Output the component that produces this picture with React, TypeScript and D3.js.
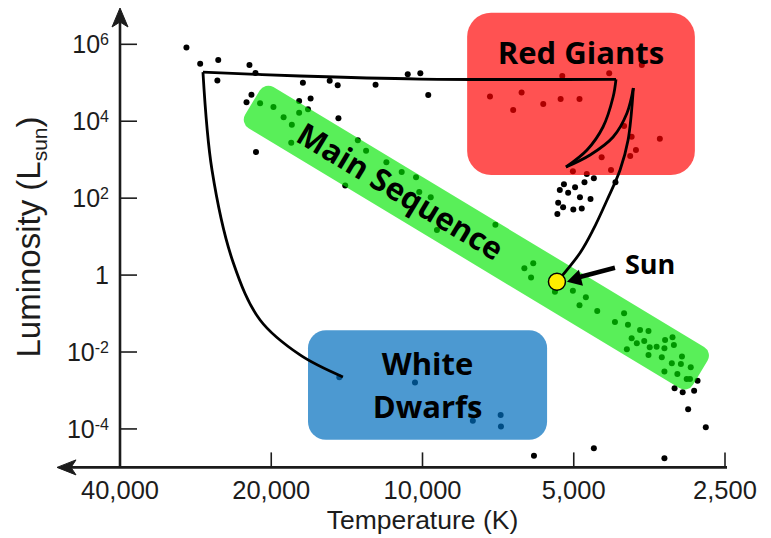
import React, { useRef, useEffect } from "react";
import * as d3 from "d3";

const WIDTH = 771;
const HEIGHT = 538;

// axis ticks
const tempTicks = [40000, 20000, 10000, 5000, 2500];
const tempLabels = ["40,000", "20,000", "10,000", "5,000", "2,500"];
const lumTicks = [1e6, 1e4, 1e2, 1, 1e-2, 1e-4];
const lumExponents = ["6", "4", "2", "", "-2", "-4"];

// stars as [temperature K, luminosity Lsun]
const brightStars = [
  [29500, 8.3e5], [27700, 3.1e5], [25500, 3.9e5], [22100, 2.9e5], [21500, 1.8e5],
  [25600, 1.14e5], [21900, 4.9e4], [22400, 3.1e4], [16700, 3.9e4], [17300, 1.0e5],
  [15300, 1.13e5], [14750, 8.6e4], [12400, 8.9e4], [10700, 1.66e5], [10100, 1.76e5],
  [9740, 4.8e4], [14700, 1.19e4], [21450, 1590],
];
const giantStars = [
  [7340, 4.4e4], [6350, 5.6e4], [6600, 1.96e4], [5750, 2.8e4], [5310, 3.8e4],
  [4870, 3.8e4], [5270, 1.5e5], [4250, 1.76e5], [3660, 2.9e5], [3970, 7500],
  [3835, 3960], [3370, 3510], [3760, 1790], [3860, 1250], [4400, 1150],
  [4215, 540], [5020, 500], [4710, 425],
];
const subgiantStars = [
  [4560, 328], [4130, 258], [5230, 229], [4970, 191], [4760, 258], [5330, 163],
  [5130, 139], [4860, 105], [4630, 95], [5370, 76], [5250, 58], [5010, 51],
  [4820, 54], [5390, 39],
];
const mainSequenceStars = [
  [21050, 2.92e4], [19800, 2.34e4], [17600, 3.36e4], [16900, 2.04e4], [17600, 1.66e4],
  [18900, 1.26e4], [18200, 8120], [18250, 2770], [13450, 3190], [12950, 1700],
  [11800, 860], [11000, 480], [10300, 348], [14250, 213], [10150, 145], [9630, 105],
  [9360, 14.9], [7160, 20.4], [6020, 2.03], [6270, 1.5], [6080, 0.86], [5450, 0.37],
  [5020, 0.39], [4730, 0.265], [4870, 0.164], [4490, 0.117], [3970, 0.102], [4140, 0.06],
  [3900, 0.0514], [3690, 0.0374], [3550, 0.0352], [3835, 0.0228], [3620, 0.0194],
  [3745, 0.0169], [3180, 0.0242], [3290, 0.0206], [3420, 0.0138], [3300, 0.0125],
  [3160, 0.0152], [3530, 0.0133], [3920, 0.0118], [3550, 0.0084], [3340, 0.0073],
  [3045, 0.0076], [3190, 0.0051], [3060, 0.0049], [2925, 0.004], [3300, 0.0031],
  [3110, 0.0027], [2980, 0.002], [2935, 0.002], [2835, 0.0018],
];
const dwarfStars = [
  [14640, 0.0022], [10350, 0.0016], [7980, 3.45e-4], [7940, 1.64e-4], [6990, 2.3e-4],
  [6980, 1.15e-4],
];
const faintStars = [
  [3150, 1.14e-3], [3035, 9.0e-4], [2880, 9.9e-4], [2960, 3.25e-4], [2730, 1.1e-4],
  [4560, 3.15e-5], [6000, 2.0e-5], [3300, 1.73e-5],
];

// evolution track of a sun-like star, in pieces (corners between them)
const trackToDwarf = [[27350, 1.9e5], [26240, 540], [23830, 2.19], [21050, 0.068], [17530, 0.0084], [14400, 0.00225]];
const trackTop = [[27350, 1.9e5], [17530, 1.5e5], [10115, 1.25e5], [4120, 1.23e5]];
const trackHook = [[4120, 1.23e5], [4175, 4.26e4], [4373, 7080], [4705, 1786], [5181, 646]];
const trackRise = [[5181, 646], [4640, 1324], [4175, 3890], [3917, 1.64e4], [3805, 7.3e4]];
const trackToSun = [[3805, 7.3e4], [3898, 3250], [4044, 540], [4292, 89.6], [4577, 14.9], [4859, 3.75], [5400, 0.67]];

const sun = [5400, 0.67];

// regions: [T left, T right, L top, L bottom]
const giantRegion = [8150, 2870, 6.6e6, 400];
const dwarfRegion = [16900, 5650, 0.037, 5.2e-5];
// main sequence band: centre of both ends
const mainSequenceBand = [[21800, 3.07e4], [2800, 2.9e-3]];

const HRDiagram = () => {
  const svgRef = useRef(null);

  useEffect(() => {
    const svg = d3.select(svgRef.current);
    svg.selectAll("*").remove();

    const x = d3.scaleLog().domain([40000, 2500]).range([120, 725]);
    const y = d3.scaleLog().domain([1e-5, 1e6]).range([467.4, 44.3]);

    const axisFont = "'Liberation Sans', Arial, sans-serif";
    const labelFont = "'Open Sans', 'Noto Sans', sans-serif";
    const ink = "#1c1c1c";

    // stars go first, the coloured regions tint them
    const stars = [...brightStars, ...giantStars, ...subgiantStars, ...mainSequenceStars, ...dwarfStars, ...faintStars];
    svg
      .append("g")
      .selectAll("circle")
      .data(stars)
      .join("circle")
      .attr("cx", (d) => x(d[0]))
      .attr("cy", (d) => y(d[1]))
      .attr("r", 3)
      .attr("fill", "#000");

    // red giants box
    svg
      .append("rect")
      .attr("x", x(giantRegion[0]))
      .attr("y", y(giantRegion[2]))
      .attr("width", x(giantRegion[1]) - x(giantRegion[0]))
      .attr("height", y(giantRegion[3]) - y(giantRegion[2]))
      .attr("rx", 24)
      .attr("fill", "rgb(255,0,0)")
      .attr("fill-opacity", 0.68);

    // white dwarfs box
    svg
      .append("rect")
      .attr("x", x(dwarfRegion[0]))
      .attr("y", y(dwarfRegion[2]))
      .attr("width", x(dwarfRegion[1]) - x(dwarfRegion[0]))
      .attr("height", y(dwarfRegion[3]) - y(dwarfRegion[2]))
      .attr("rx", 18)
      .attr("fill", "rgb(0,110,190)")
      .attr("fill-opacity", 0.7);

    // main sequence band
    const [p0, p1] = mainSequenceBand.map(([t, l]) => [x(t), y(l)]);
    const len = Math.hypot(p1[0] - p0[0], p1[1] - p0[1]);
    const ang = (Math.atan2(p1[1] - p0[1], p1[0] - p0[0]) * 180) / Math.PI;
    const band = svg.append("g").attr("transform", `translate(${p0[0]},${p0[1]}) rotate(${ang})`);
    band
      .append("rect")
      .attr("x", 0)
      .attr("y", -24)
      .attr("width", len)
      .attr("height", 48)
      .attr("rx", 10)
      .attr("fill", "rgb(0,230,0)")
      .attr("fill-opacity", 0.65);

    // tracks
    const line = d3
      .line()
      .x((d) => x(d[0]))
      .y((d) => y(d[1]))
      .curve(d3.curveCatmullRom.alpha(0.5));
    svg
      .append("g")
      .selectAll("path")
      .data([trackToDwarf, trackTop, trackHook, trackRise, trackToSun])
      .join("path")
      .attr("d", line)
      .attr("fill", "none")
      .attr("stroke", "#000")
      .attr("stroke-width", 2.8)
      .attr("stroke-linejoin", "round");

    // axes
    const x0 = x(40000);
    const y0 = y(1e-5);
    const axis = svg.append("g").attr("stroke", ink).attr("fill", ink);
    axis.append("line").attr("x1", x0).attr("x2", x0).attr("y1", y0).attr("y2", 22).attr("stroke-width", 2.6);
    axis.append("path").attr("d", `M${x0},8 L${x0 + 8},27 L${x0},22 L${x0 - 8},27 Z`).attr("stroke-width", 1);
    axis.append("line").attr("x1", x(2500) + 2).attr("x2", 71).attr("y1", y0).attr("y2", y0).attr("stroke-width", 2.6);
    axis.append("path").attr("d", `M57,${y0} L76,${y0 - 7.5} L71,${y0} L76,${y0 + 7.5} Z`).attr("stroke-width", 1);

    const yt = svg
      .append("g")
      .selectAll("g")
      .data(lumTicks)
      .join("g")
      .attr("transform", (d) => `translate(0,${y(d)})`);
    yt.append("line").attr("x1", x0).attr("x2", x0 + 17).attr("stroke", ink).attr("stroke-width", 1.6);
    yt.append("text")
      .attr("x", x0 - 11)
      .attr("y", 9)
      .attr("text-anchor", "end")
      .attr("font-family", axisFont)
      .attr("font-size", 25)
      .attr("fill", ink)
      .each(function (d, i) {
        const t = d3.select(this);
        if (lumExponents[i] === "") {
          t.text("1");
        } else {
          t.append("tspan").text("10");
          t.append("tspan").attr("font-size", 16).attr("dy", -8).text(lumExponents[i]);
        }
      });

    const xt = svg
      .append("g")
      .selectAll("g")
      .data(tempTicks)
      .join("g")
      .attr("transform", (d) => `translate(${x(d)},0)`);
    xt.append("line").attr("y1", y0).attr("y2", y0 - 15).attr("stroke", ink).attr("stroke-width", 1.6);
    xt.append("text")
      .attr("y", 499)
      .attr("text-anchor", "middle")
      .attr("font-family", axisFont)
      .attr("font-size", 25.5)
      .attr("fill", ink)
      .text((d, i) => tempLabels[i]);

    svg
      .append("text")
      .attr("x", (x(40000) + x(2500)) / 2)
      .attr("y", 529)
      .attr("text-anchor", "middle")
      .attr("font-family", axisFont)
      .attr("font-size", 26.5)
      .attr("fill", ink)
      .text("Temperature (K)");

    const yl = svg
      .append("text")
      .attr("transform", "translate(40,237) rotate(-90)")
      .attr("text-anchor", "middle")
      .attr("font-family", axisFont)
      .attr("font-size", 33)
      .attr("fill", ink);
    yl.append("tspan").text("Luminosity (L");
    yl.append("tspan").attr("font-size", 21).attr("dy", 7).text("sun");
    yl.append("tspan").attr("dy", -7).text(")");

    // region labels
    const label = (sel) =>
      sel.attr("font-family", labelFont).attr("font-weight", 700).attr("fill", "#000").attr("text-anchor", "middle");

    svg
      .append("text")
      .call(label)
      .attr("x", (x(giantRegion[0]) + x(giantRegion[1])) / 2)
      .attr("y", y(giantRegion[2]) + 51)
      .attr("font-size", 31)
      .text("Red Giants");

    const dwarfX = (x(dwarfRegion[0]) + x(dwarfRegion[1])) / 2;
    const dwarfTop = y(dwarfRegion[2]);
    svg.append("text").call(label).attr("x", dwarfX).attr("y", dwarfTop + 45).attr("font-size", 31).text("White");
    svg.append("text").call(label).attr("x", dwarfX).attr("y", dwarfTop + 88).attr("font-size", 31).text("Dwarfs");

    band
      .append("text")
      .call(label)
      .attr("x", len * 0.33)
      .attr("y", 11)
      .attr("font-size", 31)
      .text("Main Sequence");

    // the sun
    const sx = x(sun[0]);
    const sy = y(sun[1]);
    svg
      .append("line")
      .attr("x1", sx + 58)
      .attr("y1", sy - 14)
      .attr("x2", sx + 20)
      .attr("y2", sy - 4)
      .attr("stroke", "#000")
      .attr("stroke-width", 4.5);
    svg
      .append("path")
      .attr("d", `M${sx + 10},${sy} L${sx + 22},${sy - 12} L${sx + 26},${sy + 4} Z`)
      .attr("fill", "#000");
    svg
      .append("circle")
      .attr("cx", sx)
      .attr("cy", sy)
      .attr("r", 8.5)
      .attr("fill", "#ffec00")
      .attr("stroke", "#000")
      .attr("stroke-width", 1.5);
    svg
      .append("text")
      .attr("x", sx + 68)
      .attr("y", sy - 8)
      .attr("font-family", labelFont)
      .attr("font-weight", 700)
      .attr("font-size", 27)
      .attr("fill", "#000")
      .text("Sun");
  }, []);

  return <svg ref={svgRef} width={WIDTH} height={HEIGHT} style={{ display: "block" }}></svg>;
};

export default function App() {
  return (
    <>
      <style>{"body{margin:0}"}</style>
      <HRDiagram />
    </>
  );
}
